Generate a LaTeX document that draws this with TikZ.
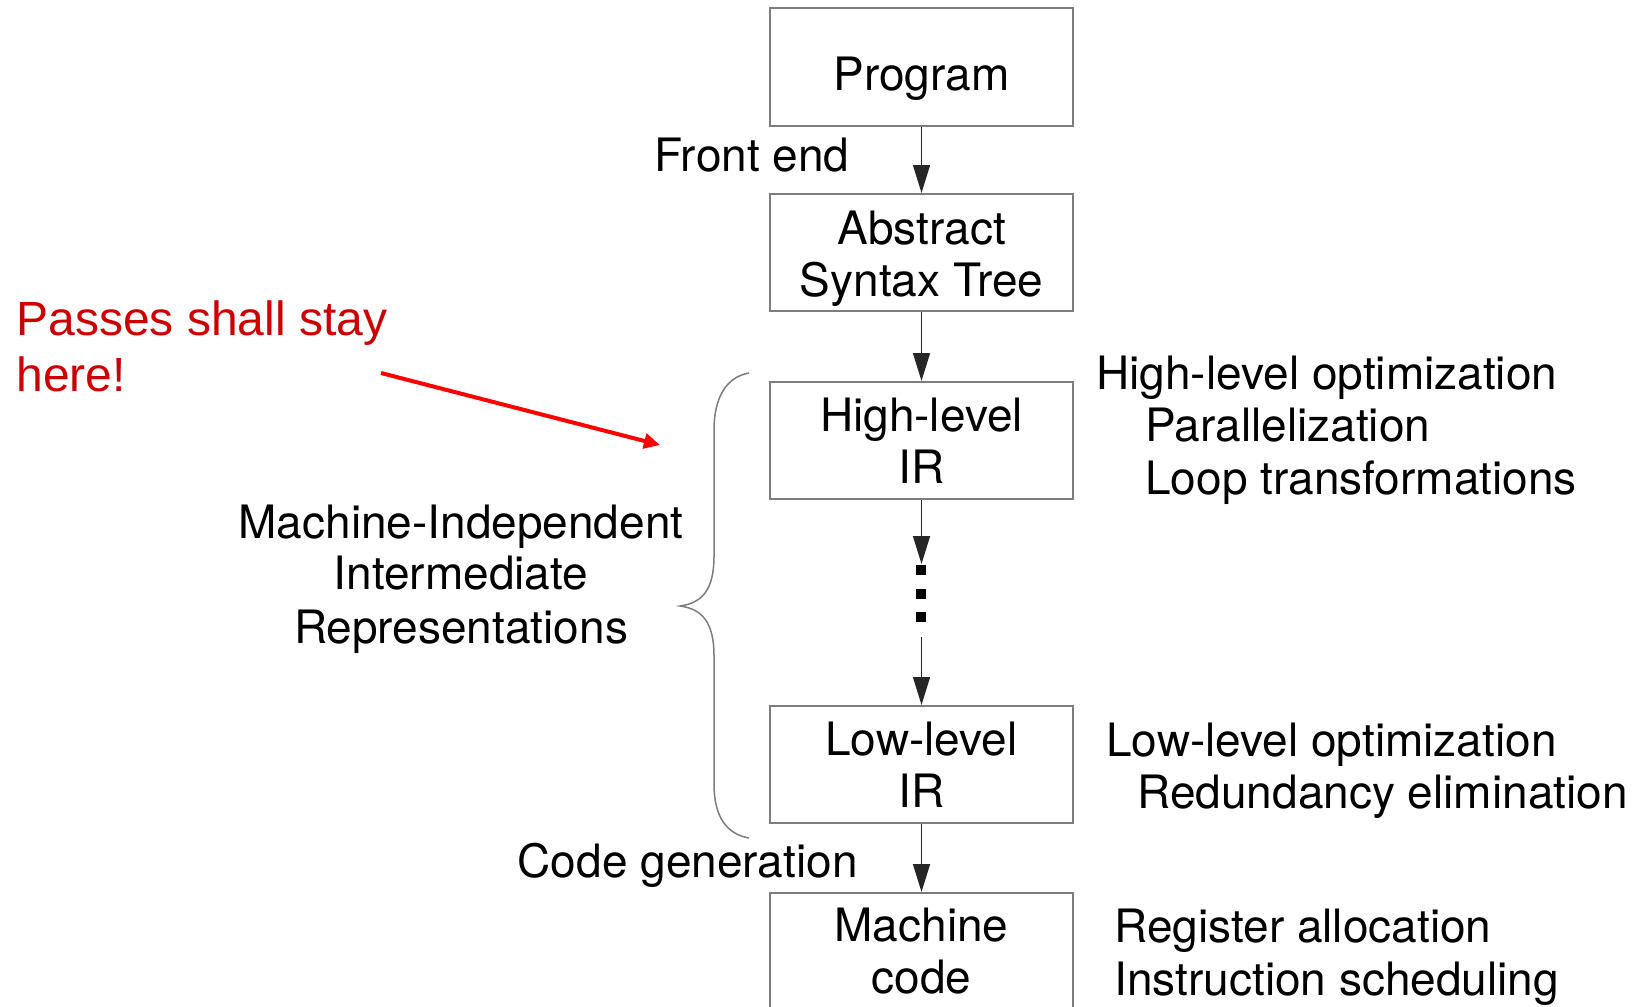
\documentclass[tikz,border=0pt]{standalone}
\usepackage{fontspec}
\setmainfont{TeX Gyre Heros}
\newfontfamily\notefont{Liberation Sans}
\usetikzlibrary{arrows.meta}
\definecolor{boxgray}{RGB}{125,125,125}
\definecolor{notered}{RGB}{204,0,0}
\definecolor{arrowred}{RGB}{255,0,0}
\tikzset{
  stage/.style={draw=boxgray, line width=1pt, minimum width=151.5pt,
    minimum height=58.5pt, inner sep=0pt, align=center,
    font=\fontsize{23}{26}\selectfont},
  lbl/.style={inner sep=0pt, anchor=base west, font=\fontsize{23}{26}\selectfont},
  clbl/.style={inner sep=0pt, anchor=base, font=\fontsize{23}{26}\selectfont},
  flow/.style={-{Triangle[length=14pt,width=8.5pt]}, line width=0.75pt, draw=black!85},
  dotsq/.style={fill=black, draw=none},
  note/.style={inner sep=0pt, anchor=base west, text=notered,
    font=\notefont\fontsize{24}{28}\selectfont},
}
\begin{document}
\begin{tikzpicture}[x=0.5pt,y=-0.5pt]
\useasboundingbox (0,0) rectangle (1636,1006);

% compiler pipeline stages (struts push the first line down a little)
\node[stage] (prog) at (921.5,67)    {\rule{0pt}{28.6pt}Program};
\node[stage] (ast)  at (921.5,252.5) {\rule{0pt}{22.6pt}Abstract\\Syntax Tree};
\node[stage] (hir)  at (921.5,440.5) {High-level\\IR};
\node[stage] (lir)  at (921.5,764.5) {Low-level\\IR};
\node[stage] (mc)   at (921.5,951.5) {Machine\\code};

% connectors between stages
\draw[flow] (prog) -- (ast);
\draw[flow] (ast) -- (hir);
\coordinate (gapTop) at (921.5,564);
\coordinate (gapBot) at (921.5,637);
\draw[flow] (hir.south) -- (gapTop);
\draw[flow] (gapBot) -- (lir.north);
\draw[flow] (lir) -- (mc);

% vertical ellipsis between the IR levels
\fill[dotsq] (916,565) rectangle (926,575);
\fill[dotsq] (916,589) rectangle (926,599);
\fill[dotsq] (916,612) rectangle (926,622);

% phase labels
\node[lbl] (fe) at (654,171) {Front end};
\node[inner sep=0pt, anchor=base east, font=\fontsize{23}{26}\selectfont] (cg) at (858,877) {Code generation};

% optimizations per level
\node[lbl] (hopt)  at (1096,389) {High-level optimization};
\node[lbl] (par)   at (1145,441) {Parallelization};
\node[lbl] (loop)  at (1145,494) {Loop transformations};
\node[lbl] (lopt)  at (1106,756) {Low-level optimization};
\node[lbl] (red)   at (1137,808) {Redundancy elimination};
\node[lbl] (reg)   at (1114,942) {Register allocation};
\node[lbl] (sched) at (1114,995) {Instruction scheduling};

% brace grouping the machine-independent IRs
\draw[boxgray, line width=0.75pt]
  (749,373) .. controls (726,377) and (714,398) .. (714,430)
  -- (714,556) .. controls (714,590) and (702,603) .. (680,606)
  .. controls (702,609) and (714,622) .. (714,656)
  -- (714,784) .. controls (714,816) and (726,834) .. (749,838);
\node[clbl] (mi1) at (461,538) {Machine-Independent};
\node[clbl] (mi2) at (461,589) {Intermediate};
\node[clbl] (mi3) at (461,643) {Representations};

% annotation
\node[note] (pass1) at (16,335) {Passes shall stay};
\node[note] (pass2) at (16,391) {here!};
\coordinate (noteTip) at (660,445);
\draw[arrowred, line width=2pt, -{Triangle[length=8pt,width=7.5pt]}] (381,373) -- (noteTip);
\end{tikzpicture}
\end{document}
